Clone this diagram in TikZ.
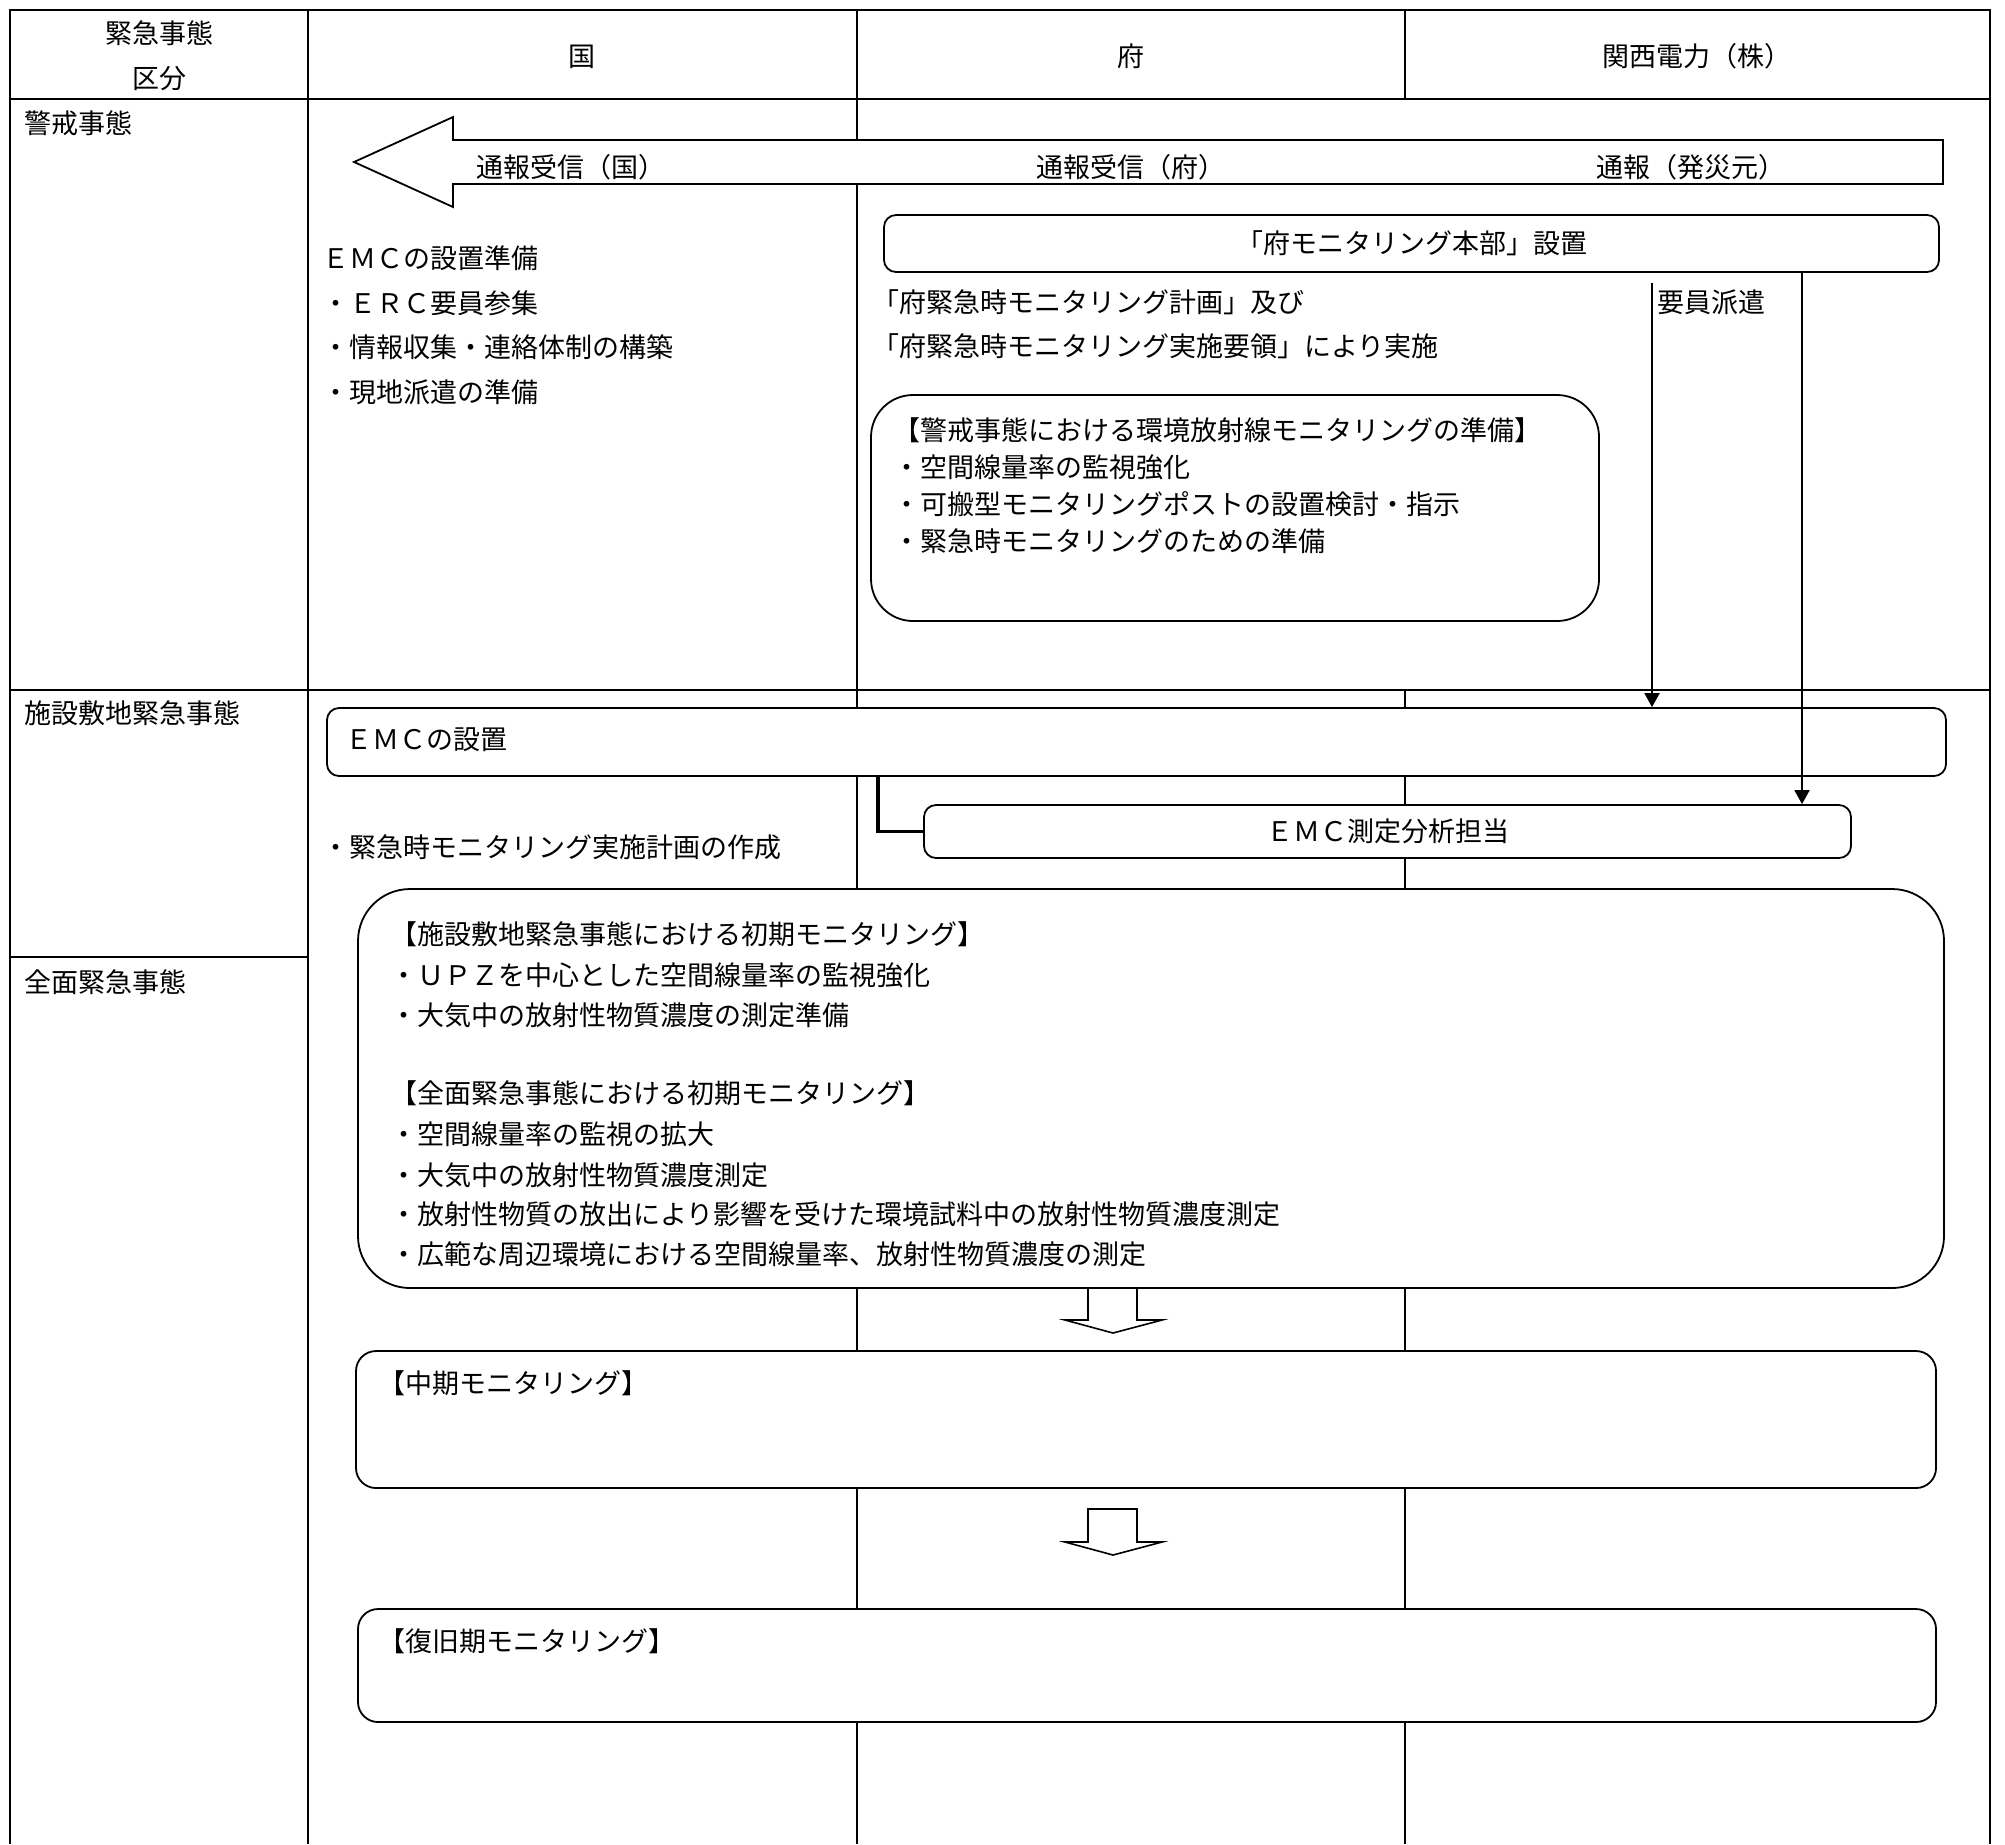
\documentclass[tikz,border=0pt]{standalone}
\usepackage{fontspec}
\newfontfamily\jp{Noto Sans CJK JP}
\usetikzlibrary{fit,arrows.meta}
\begin{document}
\begin{tikzpicture}[x=0.5pt,y=-0.5pt,
  every node/.style={font=\jp\fontsize{13.5pt}{16pt}\selectfont},
  txt/.style={anchor=west, inner sep=0pt, text height=11.9pt, text depth=1.6pt},
  ctxt/.style={inner sep=0pt, text height=11.9pt, text depth=1.6pt},
  frame line/.style={line width=1.2pt},
  grid line/.style={line width=0.9pt},
  rbox/.style={draw, line width=0.9pt, fill=white, inner sep=0pt, rounded corners=#1},
  rbox/.default=5pt,
  flow/.style={line width=0.9pt, -{Triangle[length=7pt,width=7.5pt]}},
  blockarrow/.style={draw, line width=0.8pt, fill=white},
]
\useasboundingbox (0,0) rectangle (2005,1844);
\fill[white] (0,0) rectangle (2005,1844);

% ---- table grid ----
\draw[frame line] (10,1844) -- (10,10) -- (1990,10) -- (1990,1844);
\draw[frame line] (10,99) -- (1990,99);
\draw[grid line] (10,690) -- (1990,690);
\draw[grid line] (10,957) -- (308,957);
\draw[frame line] (308,10) -- (308,1844);
\draw[grid line] (857,10) -- (857,1844);
\draw[grid line] (1405,10) -- (1405,99);
\draw[grid line] (1405,690) -- (1405,1844);

% ---- header ----
\node[ctxt] (h1) at (159,33) {緊急事態};
\node[ctxt] (h2) at (159,78) {区分};
\node[ctxt] (h3) at (582,56) {国};
\node[ctxt] (h4) at (1131,56) {府};
\node[ctxt] (h5) at (1697,56) {関西電力（株）};

% ---- row labels ----
\node[txt] (r1) at (24,123) {警戒事態};
\node[txt] (r2) at (24,713) {施設敷地緊急事態};
\node[txt] (r3) at (24,982) {全面緊急事態};

% ---- big notification arrow ----
\draw[blockarrow, line width=0.9pt] (1943,140) -- (453,140) -- (453,117) -- (354,162)
   -- (453,207) -- (453,184) -- (1943,184) -- cycle;
\node[txt] (a1) at (476,167) {通報受信（国）};
\node[txt] (a2) at (1036,167) {通報受信（府）};
\node[txt] (a3) at (1596,167) {通報（発災元）};

% ---- 国 column (alert) ----
\node[txt] (k1) at (322,258) {ＥＭＣの設置準備};
\node[txt] (k2) at (322,303) {・ＥＲＣ要員参集};
\node[txt] (k3) at (322,347) {・情報収集・連絡体制の構築};
\node[txt] (k4) at (322,392) {・現地派遣の準備};

% ---- 府 column (alert) ----
\node[rbox=6pt, fit={(884,215) (1939,272)}] (honbu) {};
\node[ctxt] (honbutxt) at (honbu.center) {「府モニタリング本部」設置};
\node[txt] (f1) at (872,302) {「府緊急時モニタリング計画」及び};
\node[txt] (f2) at (872,346) {「府緊急時モニタリング実施要領」により実施};

\node[rbox=21pt, fit={(871,395) (1599,621)}] (warn) {};
\node[txt] (w1) at (893,430) {【警戒事態における環境放射線モニタリングの準備】};
\node[txt] (w2) at (893,467) {・空間線量率の監視強化};
\node[txt] (w3) at (893,504) {・可搬型モニタリングポストの設置検討・指示};
\node[txt] (w4) at (893,541) {・緊急時モニタリングのための準備};

\node[txt] (yoin) at (1657,302) {要員派遣};

% ---- site area emergency ----
\node[rbox=6pt, fit={(327,708) (1946,776)}] (emcset) {};
\node[txt] (emcsettxt) at (345,739) {ＥＭＣの設置};
\node[txt] (plan) at (322,847) {・緊急時モニタリング実施計画の作成};
\node[rbox=6pt, fit={(924,805) (1851,858)}] (emcsok) {};
\node[ctxt] (emcsoktxt) at (emcsok.center) {ＥＭＣ測定分析担当};

\coordinate (elbowx) at (878,0);
\draw[line width=1.6pt] (emcset.south -| elbowx) |- (emcsok.west);

% ---- dispatch arrows ----
\coordinate (d1) at (1652,283);
\coordinate (d2x) at (1802,0);
\draw[flow] (d1) -- (d1 |- emcset.north);
\draw[flow] (honbu.south -| d2x) -- (d2x |- emcsok.north);

% ---- initial monitoring ----
\node[rbox=26pt, fit={(358,889) (1944,1288)}] (initmon) {};
\node[txt] (m1) at (390,934) {【施設敷地緊急事態における初期モニタリング】};
\node[txt] (m2) at (390,975) {・ＵＰＺを中心とした空間線量率の監視強化};
\node[txt] (m3) at (390,1015) {・大気中の放射性物質濃度の測定準備};
\node[txt] (m4) at (390,1093) {【全面緊急事態における初期モニタリング】};
\node[txt] (m5) at (390,1134) {・空間線量率の監視の拡大};
\node[txt] (m6) at (390,1175) {・大気中の放射性物質濃度測定};
\node[txt] (m7) at (390,1214) {・放射性物質の放出により影響を受けた環境試料中の放射性物質濃度測定};
\node[txt] (m8) at (390,1254) {・広範な周辺環境における空間線量率、放射性物質濃度の測定};

% ---- hollow down arrows ----
\draw[blockarrow] (1088,1288) -- (1137,1288) -- (1137,1320) -- (1162,1320) -- (1113,1333)
   -- (1065,1320) -- (1088,1320) -- cycle;
\draw[blockarrow] (1088,1509) -- (1137,1509) -- (1137,1542) -- (1162,1542) -- (1113,1555)
   -- (1065,1542) -- (1088,1542) -- cycle;

% ---- mid-term / recovery ----
\node[rbox=10pt, fit={(356,1351) (1936,1488)}] (midmon) {};
\node[txt] (midtxt) at (378,1383) {【中期モニタリング】};
\node[rbox=10pt, fit={(358,1609) (1936,1722)}] (recmon) {};
\node[txt] (rectxt) at (378,1641) {【復旧期モニタリング】};
\end{tikzpicture}
\end{document}
